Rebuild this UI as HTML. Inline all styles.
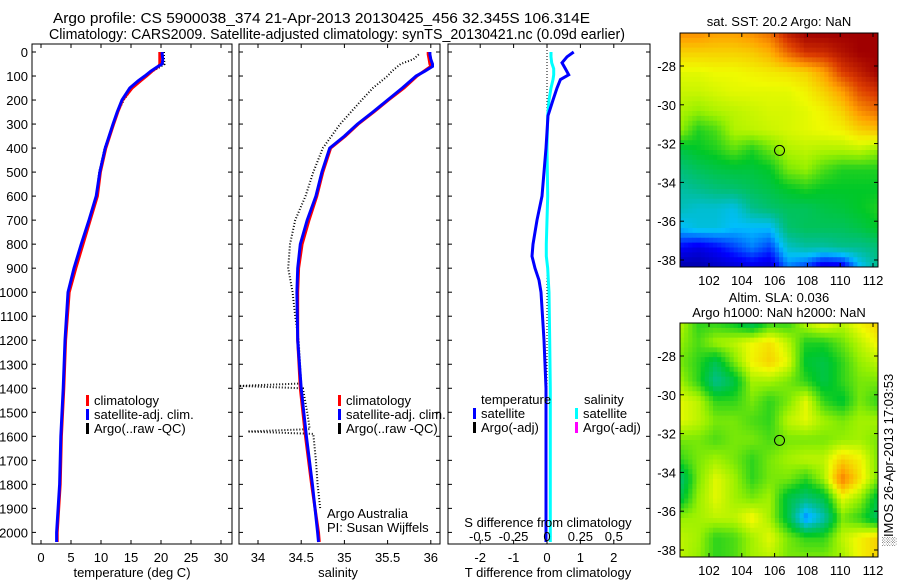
<!DOCTYPE html>
<html><head><meta charset="utf-8"><style>
body{margin:0;background:#fff;width:900px;height:580px;overflow:hidden}
svg{font-family:"Liberation Sans",sans-serif;font-size:13px}
</style></head><body>
<svg id="c" width="900" height="580" xmlns="http://www.w3.org/2000/svg"></svg>
<script>
// ---- data ----
const depthT=[0,10,30,50,60,80,100,120,150,200,250,300,400,500,600,700,800,900,1000,1200,1400,1600,1800,2000,2040];
const tempSat=[20.2,20.2,20.3,20.2,19.5,18.3,17.3,16.2,14.8,13.5,12.7,12,10.7,9.8,9.2,8,6.7,5.5,4.5,4.0,3.7,3.3,3.1,2.6,2.6];
const tempClim=[19.8,19.8,19.8,19.8,19.6,18.5,17.6,16.6,15.2,13.6,12.8,12.1,10.8,9.9,9.4,8.2,7.0,5.8,4.7,4.1,3.8,3.4,3.2,2.7,2.7];
const tempArgo=[20.5,20.5,20.5,20.6,20.0,18.6,17.4,16.4,15.2,13.8,12.8,12.1,10.6,9.7,9.2,8,6.7,5.5,4.5];
const depthS=[0,10,30,50,60,80,100,150,200,250,300,350,400,500,600,700,800,900,1000,1200,1400,1600,1800,2000,2040];
const salSat=[35.99,35.99,36.0,36.02,36.02,35.93,35.83,35.67,35.5,35.33,35.15,35.0,34.83,34.74,34.67,34.57,34.49,34.46,34.45,34.46,34.5,34.56,34.63,34.69,34.7];
const salClim=[35.97,35.97,35.98,35.99,36.0,35.92,35.84,35.69,35.51,35.34,35.16,35.01,34.84,34.75,34.68,34.59,34.51,34.47,34.46,34.46,34.49,34.55,34.62,34.7,34.71];
const depthSA=[10,30,50,80,100,150,200,300,400,500,600,700,800,900,1000,1100,1200,1380,1390,1400,1500,1570,1580,1590,1700,1800,1900];
const salArgo=[35.86,35.8,35.65,35.55,35.5,35.33,35.2,34.95,34.75,34.64,34.55,34.43,34.37,34.35,34.4,34.43,34.47,34.5,33.78,34.52,34.57,34.6,33.88,34.64,34.67,34.69,34.72];
const depthD=[0,20,45,70,95,115,150,200,265,400,600,700,800,850,900,950,1000,1200,1400,2000,2040];
const tDiff=[0.8,0.6,0.45,0.55,0.65,0.4,0.3,0.18,0.03,-0.03,-0.15,-0.3,-0.42,-0.45,-0.36,-0.24,-0.18,-0.09,-0.03,-0.03,-0.03];
const sDiff=[0.03,0.03,0.035,0.05,0.05,0.045,0.03,0.015,0.005,0.0,0.005,0.0,-0.005,-0.005,0.005,0.01,0.015,0.02,0.025,0.025,0.025];
const sstGrid=[
[0.8,0.8,0.78,0.78,0.8,0.84,0.95,1,1,1,1,1],
[0.72,0.72,0.72,0.72,0.73,0.76,0.85,0.92,0.93,0.97,1,1],
[0.66,0.66,0.67,0.67,0.68,0.69,0.7,0.72,0.78,0.9,0.95,1],
[0.64,0.64,0.65,0.66,0.66,0.66,0.66,0.68,0.72,0.78,0.88,0.92],
[0.62,0.6,0.62,0.63,0.64,0.65,0.65,0.66,0.68,0.72,0.8,0.84],
[0.6,0.52,0.55,0.62,0.63,0.64,0.65,0.66,0.67,0.68,0.72,0.74],
[0.47,0.5,0.52,0.56,0.52,0.57,0.62,0.63,0.62,0.62,0.63,0.6],
[0.42,0.45,0.47,0.48,0.48,0.5,0.58,0.6,0.55,0.52,0.52,0.52],
[0.38,0.4,0.42,0.43,0.45,0.47,0.5,0.52,0.5,0.5,0.5,0.5],
[0.36,0.34,0.34,0.32,0.4,0.43,0.45,0.45,0.47,0.48,0.5,0.52],
[0.3,0.33,0.33,0.3,0.3,0.3,0.43,0.45,0.45,0.45,0.47,0.5],
[0.15,0.12,0.15,0.2,0.25,0.2,0.35,0.38,0.38,0.4,0.4,0.42],
[0.05,0.05,0.08,0.1,0.12,0.1,0.25,0.2,0.1,0.12,0.3,0.4]];
const slaGrid=[
[0.63,0.53,0.53,0.5,0.44,0.53,0.53,0.63,0.68,0.63,0.68,0.72],
[0.6,0.55,0.61,0.63,0.67,0.7,0.63,0.52,0.52,0.57,0.63,0.68],
[0.58,0.53,0.46,0.58,0.68,0.72,0.66,0.49,0.47,0.53,0.6,0.63],
[0.61,0.53,0.4,0.47,0.61,0.61,0.58,0.53,0.47,0.53,0.58,0.58],
[0.66,0.63,0.53,0.53,0.58,0.53,0.58,0.66,0.53,0.49,0.58,0.53],
[0.66,0.63,0.58,0.58,0.55,0.53,0.63,0.66,0.61,0.58,0.61,0.61],
[0.58,0.58,0.55,0.58,0.58,0.55,0.58,0.58,0.58,0.6,0.61,0.58],
[0.53,0.58,0.61,0.58,0.53,0.58,0.61,0.63,0.63,0.72,0.68,0.58],
[0.42,0.58,0.66,0.61,0.53,0.58,0.58,0.53,0.61,0.82,0.7,0.58],
[0.47,0.6,0.66,0.61,0.58,0.61,0.47,0.42,0.47,0.66,0.6,0.47],
[0.6,0.61,0.63,0.63,0.68,0.61,0.47,0.25,0.37,0.58,0.53,0.44],
[0.63,0.61,0.53,0.55,0.61,0.66,0.58,0.53,0.53,0.63,0.68,0.72],
[0.63,0.6,0.53,0.55,0.61,0.63,0.58,0.58,0.58,0.61,0.68,0.72]];
const depthTicks=[0,100,200,300,400,500,600,700,800,900,1000,1100,1200,1300,1400,1500,1600,1700,1800,1900,2000];
const tTicks=[0,5,10,15,20,25,30];
const sTicks=[34,34.5,35,35.5,36];
const dTTicks=[-2,-1,0,1,2];
const dSTicks=[-0.5,-0.25,0,0.25,0.5];
const lonTicks=[102,104,106,108,110,112];
const latTicks=[-28,-30,-32,-34,-36,-38];

const svg=document.getElementById('c');
const NS='http://www.w3.org/2000/svg';
function el(tag,attrs,parent){const e=document.createElementNS(NS,tag);for(const k in attrs)e.setAttribute(k,attrs[k]);(parent||svg).appendChild(e);return e;}
function txt(x,y,s,anchor,parent,extra){const t=el('text',Object.assign({x:x,y:y,'text-anchor':anchor||'start',fill:'#000'},extra||{}),parent);t.textContent=s;return t;}

const Y0=52, YS=0.2402;
const yD=d=>Y0+d*YS;
const TOP=44, BOT=544;
const xT=v=>41+6*v;
const xS=v=>258+86.4*(v-34);
const xDT=v=>547+33.4*v;
const xDS=v=>547+133.6*v;

function panel(name,x0,x1){
  const g=el('g',{},svg);
  
  
  el('rect',{x:x0,y:TOP,width:x1-x0,height:BOT-TOP,fill:'none',stroke:'#000','stroke-width':1},g);
  depthTicks.forEach(d=>{const y=yD(d);
    el('line',{x1:x0,x2:x0+4,y1:y,y2:y,stroke:'#000'},g);
    el('line',{x1:x1-4,x2:x1,y1:y,y2:y,stroke:'#000'},g);});
  return g;
}
function line(g,xs,ys,xf,color,w,dash,name){
  const pts=xs.map((v,i)=>xf(v).toFixed(1)+','+yD(ys[i]).toFixed(1)).join(' ');
  const p=el('polyline',{points:pts,fill:'none',stroke:color,'stroke-width':w},g);
  if(dash)p.setAttribute('stroke-dasharray',dash);
  
  
  return p;
}
function xticks(g,ticks,xf,x0,x1,ylab){
  ticks.forEach(v=>{const x=xf(v);
    el('line',{x1:x,x2:x,y1:BOT,y2:BOT-4,stroke:'#000'},g);
    el('line',{x1:x,x2:x,y1:TOP,y2:TOP+4,stroke:'#000'},g);
    if(ylab)txt(x,ylab,String(v),'middle',g);});
}
function legend(g,x,y,items){
  items.forEach((it,i)=>{
    el('rect',{x:x,y:y+i*14-10,width:3,height:11,fill:it[1]},g);
    const t=txt(x+8,y+i*14,it[0],'start',g);
    
    
  });
}

// titles
const t1=txt(53,23,'Argo profile: CS 5900038_374 21-Apr-2013 20130425_456 32.345S 106.314E','start',svg,{'font-size':'14.5px',textLength:537,lengthAdjust:'spacingAndGlyphs'});

const t2=txt(49,39,'Climatology: CARS2009. Satellite-adjusted climatology: synTS_20130421.nc (0.09d earlier)','start',svg,{'font-size':'14.5px',textLength:576,lengthAdjust:'spacingAndGlyphs'});


// panel 1
const g1=panel('temperature-panel',32,232);
depthTicks.forEach(d=>txt(28,yD(d)+5,String(d),'end',g1));
xticks(g1,tTicks,xT,32,232,562);
txt(132,577,'temperature (deg C)','middle',g1);
line(g1,tempArgo,depthT.slice(0,tempArgo.length),xT,'#000',2,'1,2','argo-temperature-line');
line(g1,tempClim,depthT,xT,'#ff0000',3,null,'climatology-temperature-line');
line(g1,tempSat,depthT,xT,'#0000ff',3,null,'satellite-temperature-line');
legend(g1,86,405,[['climatology','#f00'],['satellite-adj. clim.','#00f'],['Argo(..raw -QC)','#000']]);

// panel 2
const g2=panel('salinity-panel',239,440);
xticks(g2,sTicks,xS,239,440,562);
txt(338,577,'salinity','middle',g2);
line(g2,salArgo,depthSA,xS,'#000',2,'1,2','argo-salinity-line');
line(g2,salClim,depthS,xS,'#ff0000',3,null,'climatology-salinity-line');
line(g2,salSat,depthS,xS,'#0000ff',3,null,'satellite-salinity-line');
legend(g2,338,405,[['climatology','#f00'],['satellite-adj. clim.','#00f'],['Argo(..raw -QC)','#000']]);
txt(327,518,'Argo Australia','start',g2);
txt(327,532,'PI: Susan Wijffels','start',g2);

// panel 3
const g3=panel('difference-panel',448,650);
el('line',{x1:xDT(0),x2:xDT(0),y1:TOP,y2:BOT,stroke:'#000','stroke-dasharray':'1,2'},g3);
line(g3,sDiff,depthD,xDS,'#00ffff',3,null,'salinity-difference-line');
line(g3,tDiff,depthD,xDT,'#0000ff',3,null,'temperature-difference-line');
xticks(g3,dTTicks,xDT,448,650,562);
dSTicks.forEach(v=>txt(xDS(v),541,String(v),'middle',g3));
txt(548,527,'S difference from climatology','middle',g3);
txt(548,577,'T difference from climatology','middle',g3);
txt(481,404,'temperature','start',g3);txt(584,404,'salinity','start',g3);
legend(g3,473,418,[['satellite','#00f'],['Argo(-adj)','#000']]);
legend(g3,575,418,[['satellite','#0ff'],['Argo(-adj)','#f0f']]);

// maps
const cmapStops=[[0,[0,0,130]],[0.15,[0,0,255]],[0.3,[0,190,255]],[0.4,[0,190,140]],[0.5,[0,200,40]],[0.6,[150,240,0]],[0.67,[240,250,0]],[0.78,[255,160,0]],[0.9,[220,60,0]],[1,[160,0,0]]];
function cmap(v){v=Math.max(0,Math.min(1,v));
  for(let i=1;i<cmapStops.length;i++){if(v<=cmapStops[i][0]){const a=cmapStops[i-1],b=cmapStops[i];const f=(v-a[0])/(b[0]-a[0]);
    return 'rgb('+a[1].map((c,k)=>Math.round(c+(b[1][k]-c)*f)).join(',')+')';}}
  return 'rgb(160,0,0)';}
function map(name,grid,mx0,my0,title1,title2){
  const mx1=878,my1=my0+234;
  const g=el('g',{},svg);
  
  
  const lonX=l=>709+16.4*(l-102);
  const latY=a=>(my0+33)+19.4*(-28-a);
  const rows=grid.length,cols=grid[0].length,N=48;
  const cw=(mx1-mx0)/N,ch=(my1-my0)/N;
  for(let i=0;i<N;i++)for(let j=0;j<N;j++){
    const fy=(i+0.5)/N*(rows-1),fx=(j+0.5)/N*(cols-1);
    const r0=Math.floor(fy),c0=Math.floor(fx),r1=Math.min(rows-1,r0+1),c1=Math.min(cols-1,c0+1);
    const dy=fy-r0,dx=fx-c0;
    const v=grid[r0][c0]*(1-dx)*(1-dy)+grid[r0][c1]*dx*(1-dy)+grid[r1][c0]*(1-dx)*dy+grid[r1][c1]*dx*dy;
    el('rect',{x:(mx0+j*cw).toFixed(2),y:(my0+i*ch).toFixed(2),width:(cw+0.4).toFixed(2),height:(ch+0.4).toFixed(2),fill:cmap(v)},g);
  }
  el('rect',{x:mx0,y:my0,width:mx1-mx0,height:my1-my0,fill:'none',stroke:'#000'},g);
  lonTicks.forEach(l=>{const x=lonX(l);el('line',{x1:x,x2:x,y1:my1,y2:my1-4,stroke:'#000'},g);el('line',{x1:x,x2:x,y1:my0,y2:my0+4,stroke:'#000'},g);txt(x,my1+18,String(l),'middle',g);});
  latTicks.forEach(a=>{const y=latY(a);el('line',{x1:mx0,x2:mx0+4,y1:y,y2:y,stroke:'#000'},g);el('line',{x1:mx1-4,x2:mx1,y1:y,y2:y,stroke:'#000'},g);txt(mx0-4,y+5,String(a),'end',g);});
  const c=el('circle',{cx:lonX(106.3),cy:latY(-32.35),r:5,fill:'none',stroke:'#000'},g);
  
  
  if(title2){txt(779,my0-21,title1,'middle',g);txt(779,my0-6,title2,'middle',g);}
  else txt(779,my0-7,title1,'middle',g);
}
map('sst-map',sstGrid,680,33,'sat. SST: 20.2 Argo: NaN');
map('sla-map',slaGrid,680,323,'Altim. SLA: 0.036','Argo h1000: NaN h2000: NaN');
const side=txt(0,0,'\u2591IMOS 26-Apr-2013 17:03:53','middle',svg,{transform:'translate(893,460) rotate(-90)'});


</script>
</body></html>
